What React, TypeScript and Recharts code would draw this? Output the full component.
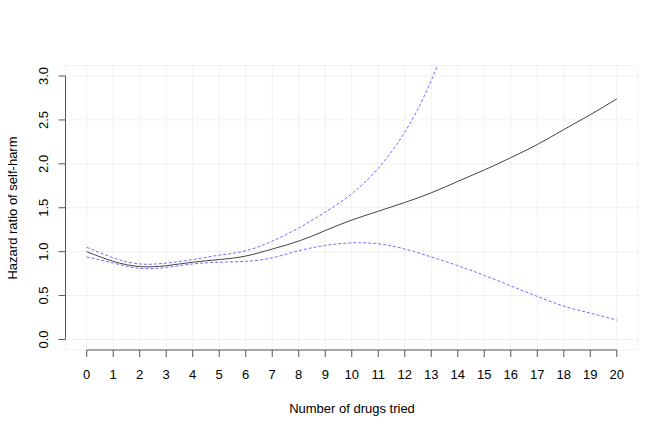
import React from 'react'
import {
  LineChart,
  Line,
  XAxis,
  YAxis,
  CartesianGrid,
  ReferenceLine,
} from 'recharts'

// number of drugs tried
const drugs = [0, 1, 2, 3, 4, 5, 6, 7, 8, 9, 10, 11, 12, 13, 14, 15, 16, 17, 18, 19, 20]
// fitted hazard ratio and its confidence band
const hazard = [1.0, 0.89, 0.83, 0.84, 0.88, 0.91, 0.95, 1.03, 1.12, 1.24, 1.36, 1.46, 1.56, 1.67, 1.8, 1.93, 2.07, 2.22, 2.39, 2.56, 2.74]
const upper = [1.05, 0.93, 0.86, 0.87, 0.91, 0.96, 1.01, 1.12, 1.27, 1.45, 1.66, 1.95, 2.36, 2.95, 3.75, null, null, null, null, null, null]
const lower = [0.94, 0.87, 0.81, 0.82, 0.86, 0.88, 0.89, 0.93, 1.01, 1.07, 1.1, 1.09, 1.03, 0.94, 0.84, 0.73, 0.61, 0.49, 0.38, 0.3, 0.22]

const yTicks = [0, 0.5, 1, 1.5, 2, 2.5, 3]

const FONT = '"Liberation Sans", Arial, sans-serif'

const chartData = drugs.map((d, i) => ({
  drugs: d,
  hazard: hazard[i],
  upper: upper[i],
  lower: lower[i],
}))

// R-style y tick labels, written parallel to the axis
const YTick = (props: any) => {
  const { y, payload } = props
  const cx = 43
  return (
    <text
      x={cx}
      y={y}
      dy="0.35em"
      textAnchor="middle"
      transform={`rotate(-90 ${cx} ${y})`}
      fontSize={13}
      fontFamily={FONT}
      fill="#000"
    >
      {payload.value.toFixed(1)}
    </text>
  )
}

export default function App() {
  return (
    <div style={{ position: 'absolute', left: 0, top: 0, background: '#fff' }}>
      <LineChart
        width={672}
        height={432}
        data={chartData}
        margin={{ top: 65.5, right: 34, left: 5.5, bottom: 22 }}
      >
        <CartesianGrid stroke="#e4e4e4" strokeDasharray="1 1" />
        <XAxis
          dataKey="drugs"
          type="number"
          domain={[-0.8, 20.8]}
          ticks={drugs}
          interval={0}
          axisLine={false}
          tickSize={7}
          tickMargin={13}
          height={60}
          tickLine={{ stroke: '#555' }}
          tick={{ fontSize: 13, fontFamily: FONT, fill: '#000' }}
          label={{
            content: () => (
              <text x={352} y={408} dy="0.35em" textAnchor="middle" fontSize={13} fontFamily={FONT} fill="#000">
                Number of drugs tried
              </text>
            ),
          }}
        />
        <YAxis
          type="number"
          domain={[-0.12, 3.12]}
          allowDataOverflow
          ticks={yTicks}
          interval={0}
          axisLine={false}
          tickSize={7}
          width={60}
          tickLine={{ stroke: '#555' }}
          tick={<YTick />}
          label={{
            content: () => (
              <text
                x={12}
                y={208}
                dy="0.35em"
                textAnchor="middle"
                transform="rotate(-90 12 208)"
                fontSize={13}
                fontFamily={FONT}
                fill="#000"
              >
                Hazard ratio of self-harm
              </text>
            ),
          }}
        />
        <ReferenceLine
          segment={[{ x: 0, y: -0.12 }, { x: 20, y: -0.12 }]}
          stroke="#555"
          ifOverflow="visible"
        />
        <ReferenceLine
          segment={[{ x: -0.8, y: 0 }, { x: -0.8, y: 3 }]}
          stroke="#555"
          ifOverflow="visible"
        />
        <Line
          dataKey="hazard"
          type="natural"
          stroke="#444"
          strokeWidth={1}
          dot={false}
          isAnimationActive={false}
        />
        <Line
          dataKey="upper"
          type="natural"
          stroke="#6f6fff"
          strokeWidth={1}
          strokeDasharray="3 2"
          dot={false}
          isAnimationActive={false}
        />
        <Line
          dataKey="lower"
          type="natural"
          stroke="#6f6fff"
          strokeWidth={1}
          strokeDasharray="3 2"
          dot={false}
          isAnimationActive={false}
        />
      </LineChart>
    </div>
  )
}
